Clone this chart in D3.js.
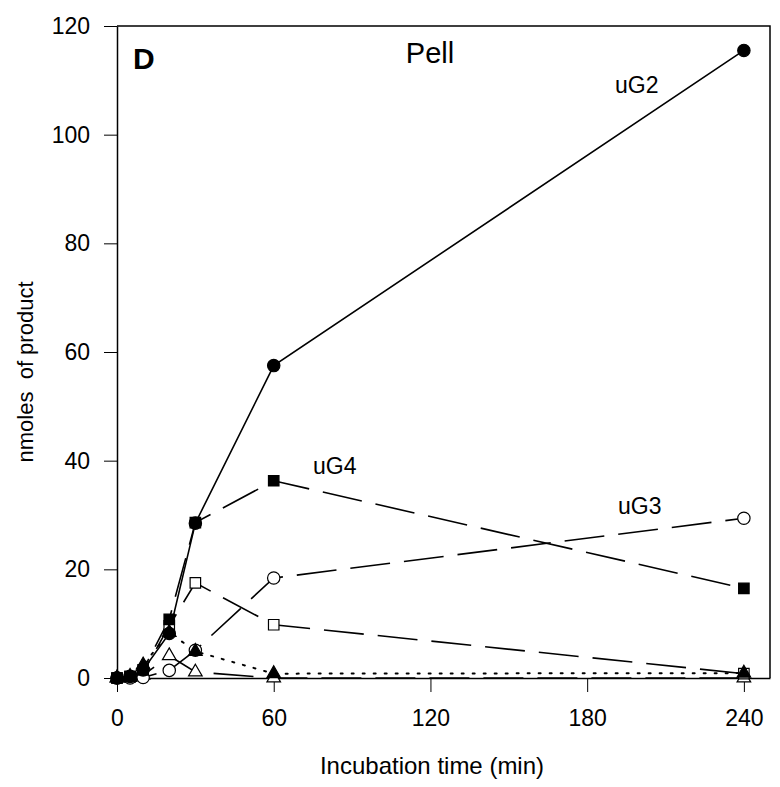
<!DOCTYPE html>
<html><head><meta charset="utf-8">
<script src="https://cdn.jsdelivr.net/npm/d3@7"></script>
<style>body{margin:0;background:#fff;} text{font-family:"Liberation Sans",Arial,sans-serif;fill:#000;}</style>
</head><body>
<svg id="c" width="780" height="787"></svg>
<script>
const times = [0, 5, 10, 20, 30, 60, 240];
const uG2 = [0, 0.3, 1.5, 8.2, 28.5, 57.5, 115.5];          // filled circle, solid
const uG4 = [0, 0.3, 1.5, 10.8, 28.6, 36.3, 16.5];         // filled square, long dash
const uG3 = [0, 0, 0.1, 1.4, 5.1, 18.4, 29.4];             // open circle, long dash
const openSq = [0, 0.2, 1.0, 9.6, 17.5, 9.8, 0.8];         // open square, long dash
const fillTri = [0, 0.3, 2.4, 8.4, 4.9, 0.8, 0.9];         // filled triangle, dotted
const openTri = [0, 0.1, 0.5, 4.1, 1.1, 0.0, 0.0];         // open triangle, long dash
const xTicks = [0, 60, 120, 180, 240];
const yTicks = [0, 20, 40, 60, 80, 100, 120];

const svg = d3.select("#c");
const x = d3.scaleLinear().domain([0, 250]).range([117, 770]);
const y = d3.scaleLinear().domain([0, 120]).range([678, 26]);

// frame
svg.append("path").attr("d", `M${x(0)},${y(120)}H${x(250)}V${y(0)}`).attr("fill","none").attr("stroke","#000").attr("stroke-width",1.5);

const xAxis = svg.append("g").attr("transform", `translate(0,${y(0)})`)
  .call(d3.axisBottom(x).tickValues(xTicks).tickSize(14).tickPadding(14).tickSizeOuter(0));
const yAxis = svg.append("g").attr("transform", `translate(${x(0)},0)`)
  .call(d3.axisLeft(y).tickValues(yTicks).tickSize(13).tickPadding(14).tickSizeOuter(0));
[xAxis, yAxis].forEach(g => {
  g.select(".domain").attr("stroke-width", 1.5).attr("stroke","#000");
  g.selectAll(".tick line").attr("stroke-width", 1).attr("stroke","#000");
  g.selectAll(".tick text").attr("font-size", 23).attr("font-family", '"Liberation Sans",Arial,sans-serif').attr("fill","#000");
});
xAxis.selectAll(".tick text").attr("dy", "0.85em");

const series = [
  {v: openTri, dash: "40,14", shape: "tri", fill: "#fff"},
  {v: openSq, dash: "40,14", shape: "sq", fill: "#fff"},
  {v: uG3, dash: "40,14", shape: "circ", fill: "#fff"},
  {v: fillTri, dash: "2,9", shape: "tri", fill: "#000", w: 2},
  {v: uG4, dash: "40,14", shape: "sq", fill: "#000"},
  {v: uG2, dash: null, shape: "circ", fill: "#000"}
];
const line = d3.line().x((d,i) => x(times[i])).y(d => y(d));
const sym = {circ: d3.symbolCircle, sq: d3.symbolSquare, tri: d3.symbolTriangle};
const size = {circ: 120, sq: 110, tri: 80};
series.forEach(s => {
  const p = svg.append("path").attr("d", line(s.v)).attr("fill","none").attr("stroke","#000")
    .attr("stroke-width", s.w || 1.6);
  if (s.dash) p.attr("stroke-dasharray", s.dash);
  if (s.w) p.attr("stroke-linecap","round");
});
series.forEach(s => {
  svg.append("g").selectAll("path").data(s.v).join("path")
    .attr("transform", (d,i) => `translate(${x(times[i])},${y(d)})`)
    .attr("d", d3.symbol().type(sym[s.shape]).size(size[s.shape]))
    .attr("fill", s.fill).attr("stroke","#000").attr("stroke-width",1.2);
});

svg.append("text").attr("x",133).attr("y",69).attr("font-size",30).attr("font-weight","bold").text("D");
svg.append("text").attr("x",430).attr("y",63).attr("text-anchor","middle").attr("font-size",29).text("Pell");
svg.append("text").attr("x",615).attr("y",93).attr("font-size",23).text("uG2");
svg.append("text").attr("x",313).attr("y",474).attr("font-size",23).text("uG4");
svg.append("text").attr("x",618).attr("y",514).attr("font-size",23).text("uG3");
svg.append("text").attr("x",432).attr("y",774).attr("text-anchor","middle").attr("font-size",24).text("Incubation time (min)");
svg.append("text").attr("transform","translate(33,372) rotate(-90)").attr("text-anchor","middle").attr("font-size",22).attr("xml:space","preserve").style("white-space","pre").text("nmoles  of product");
</script>
</body></html>
